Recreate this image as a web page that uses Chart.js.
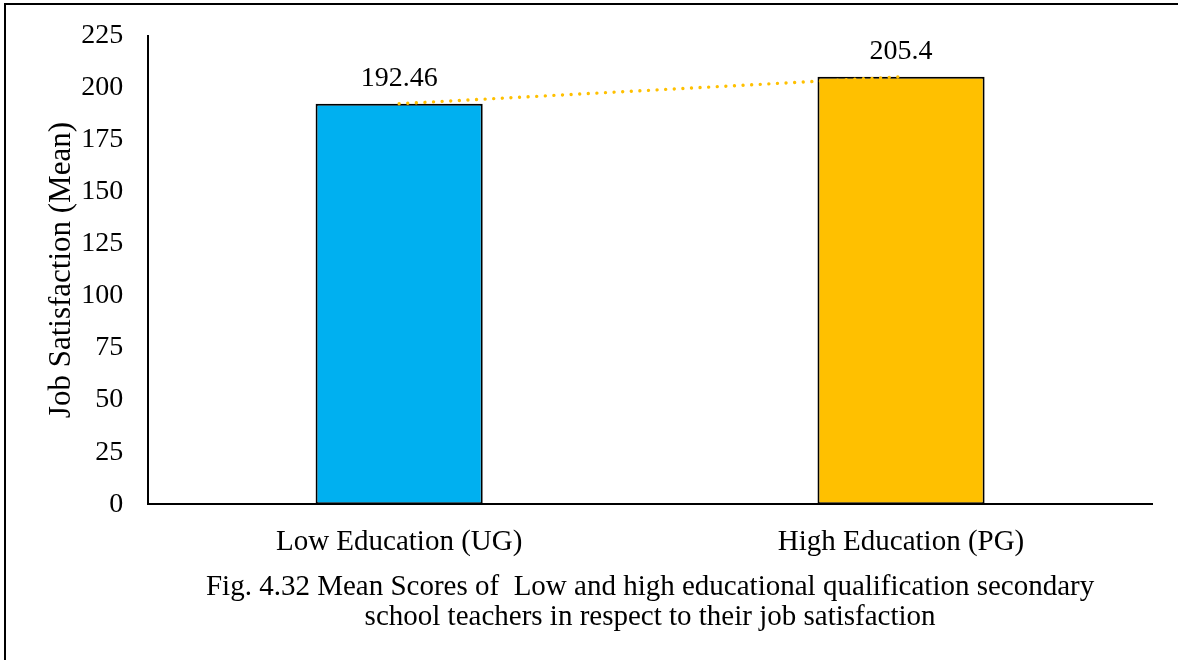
<!DOCTYPE html>
<html>
<head>
<meta charset="utf-8">
<script src="https://cdn.jsdelivr.net/npm/chart.js@4.4.1/dist/chart.umd.min.js"></script>
<style>
  html, body { margin: 0; padding: 0; background: #fff; }
  #wrap { position: relative; width: 1178px; height: 660px; }
</style>
</head>
<body>
<div id="wrap"><canvas id="c" width="1178" height="660"></canvas></div>
<script>
const categories = ['Low Education (UG)', 'High Education (PG)'];
const meanScores = [192.46, 205.4];
const valueLabels = ['192.46', '205.4'];
const barColors = ['#00B0F0', '#FFC000'];
const yTicks = [0, 25, 50, 75, 100, 125, 150, 175, 200, 225];
const yTitle = 'Job Satisfaction (Mean)';
const captionLines = [
  'Fig. 4.32 Mean Scores of  Low and high educational qualification secondary',
  'school teachers in respect to their job satisfaction'
];

const FONT = '"Liberation Serif", "Times New Roman", serif';

// Frame lines along the left and top edges
const framePlugin = {
  id: 'frame',
  beforeDraw(chart) {
    const ctx = chart.ctx;
    ctx.save();
    ctx.fillStyle = '#fff';
    ctx.fillRect(0, 0, chart.width, chart.height);
    ctx.strokeStyle = '#000';
    ctx.lineWidth = 2;
    ctx.beginPath();
    ctx.moveTo(5, chart.height);
    ctx.lineTo(5, 4);
    ctx.lineTo(chart.width, 4);
    ctx.stroke();
    ctx.restore();
  }
};

// Value labels above each bar
const valueLabelPlugin = {
  id: 'valueLabels',
  afterDatasetsDraw(chart) {
    const meta = chart.getDatasetMeta(1);
    const ctx = chart.ctx;
    ctx.save();
    ctx.font = '28px ' + FONT;
    ctx.fillStyle = '#000';
    ctx.textAlign = 'center';
    ctx.textBaseline = 'alphabetic';
    meta.data.forEach((bar, i) => {
      ctx.fillText(valueLabels[i], bar.x, bar.y - 18);
    });
    ctx.restore();
  }
};

new Chart(document.getElementById('c'), {
  data: {
    labels: categories,
    datasets: [
      {
        type: 'line',
        data: meanScores,
        borderColor: '#FFC000',
        borderWidth: 3.4,
        borderDash: [0.01, 8.6],
        borderCapStyle: 'round',
        pointRadius: 0,
        fill: false,
        order: 0
      },
      {
        type: 'bar',
        data: meanScores,
        backgroundColor: barColors,
        borderColor: '#000',
        borderWidth: 2,
        borderSkipped: false,
        barPercentage: 1,
        categoryPercentage: 0.333,
        order: 1
      }
    ]
  },
  options: {
    responsive: false,
    animation: false,
    devicePixelRatio: 1,
    layout: { padding: { left: 43, right: 26, top: 36, bottom: 28 } },
    plugins: {
      legend: { display: false },
      tooltip: { enabled: false },
      title: {
        display: true,
        position: 'bottom',
        fullSize: false,
        text: captionLines,
        color: '#000',
        font: { family: FONT, size: 29, weight: 'normal', lineHeight: 1.035 },
        padding: { top: -9, bottom: 0 }
      }
    },
    scales: {
      x: {
        grid: { display: false, drawTicks: false },
        border: { display: true, color: '#000', width: 2 },
        ticks: { color: '#000', font: { family: FONT, size: 29 }, padding: 21 }
      },
      y: {
        min: 0,
        max: 225,
        afterBuildTicks(axis) { axis.ticks = yTicks.map(v => ({ value: v })); },
        afterFit(axis) { axis.paddingTop = 0; axis.paddingBottom = 0; },
        grid: { display: false, drawTicks: false },
        border: { display: true, color: '#000', width: 2 },
        ticks: { color: '#000', font: { family: FONT, size: 28 }, padding: 25 },
        title: {
          display: true,
          text: yTitle,
          color: '#000',
          font: { family: FONT, size: 31 },
          padding: { top: 0, bottom: -24 }
        }
      }
    }
  },
  plugins: [framePlugin, valueLabelPlugin]
});
</script>
</body>
</html>
